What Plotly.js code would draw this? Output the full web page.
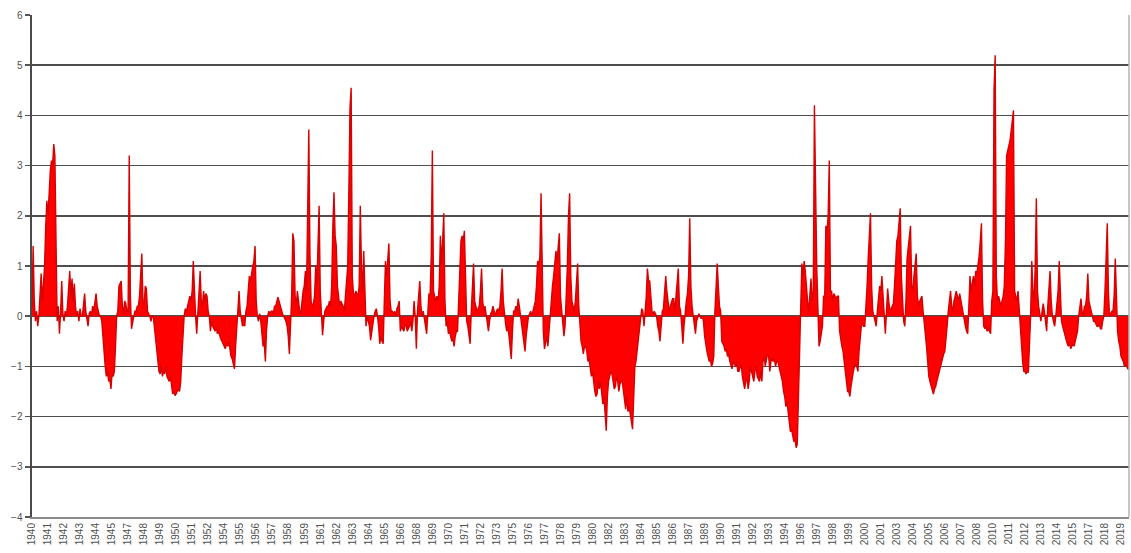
<!DOCTYPE html>
<html>
<head>
<meta charset="utf-8">
<script src="https://cdn.plot.ly/plotly-3.0.1.min.js"></script>
<style>
  html, body { margin: 0; padding: 0; background: #ffffff; }
  #chart { width: 1131px; height: 553px; }
</style>
</head>
<body>
<div id="chart"></div>
<script>
// Monthly index values, January 1940 to December 2019, one row per year.
const startYear = 1940;

const v1940s = [
  0.2, 1.4, 0.3, -0.1, 0.1, -0.2, 0.0, 0.4, 0.85, 0.3, 0.6, 1.0,
  1.8, 2.3, 2.0, 2.6, 2.9, 3.1, 3.0, 3.43, 3.2, 1.5, -0.1, 0.2,
  -0.35, 0.1, 0.7, 0.05, -0.1, 0.1, 0.0, 0.2, 0.6, 0.9, 0.4, 0.75,
  0.3, 0.65, 0.2, 0.0, 0.1, -0.1, 0.15, 0.0, 0.0, 0.2, 0.45, 0.1,
  -0.1, -0.2, 0.05, 0.1, 0.0, 0.2, 0.1, 0.3, 0.45, 0.2, 0.05, 0.0,
  0.0, -0.1, -0.4, -0.8, -1.0, -1.2, -1.1, -1.3, -1.25, -1.45, -1.15, -1.2,
  -1.1, -0.6, 0.0, 0.1, 0.6, 0.65, 0.7, 0.2, 0.05, 0.3, 0.25, 0.1,
  0.1, 3.2, 0.4, -0.25, -0.1, 0.0, 0.1, 0.1, 0.2, 0.2, 0.4, 0.8,
  1.25, 0.3, 0.2, 0.6, 0.55, 0.1, 0.05, 0.0, -0.1, 0.0, 0.0, -0.2,
  -0.5, -0.7, -0.9, -1.1, -1.15, -1.0, -1.2, -1.1, -1.15, -1.0, -1.2, -1.25
];

const v1950s = [
  -1.3, -1.2, -1.45, -1.55, -1.5, -1.58, -1.55, -1.5, -1.45, -1.5, -1.3, -0.8,
  -0.3, 0.0, 0.15, 0.1, 0.2, 0.3, 0.4, 0.3, 0.5, 1.1, 0.3, 0.0,
  -0.35, 0.1, 0.6, 0.9, 0.3, 0.2, 0.5, 0.3, 0.45, 0.4, 0.1, 0.0,
  -0.3, -0.1, -0.2, -0.25, -0.3, -0.2, -0.35, -0.3, -0.4, -0.45, -0.5, -0.55,
  -0.6, -0.65, -0.55, -0.6, -0.5, -0.7, -0.8, -0.85, -1.0, -1.05, -0.6, -0.2,
  0.0, 0.5, 0.1, -0.1, -0.2, -0.15, -0.2, 0.1, 0.2, 0.5, 0.8, 0.7,
  0.9, 1.0, 1.1, 1.4, 0.3, 0.0, -0.1, 0.05, -0.1, -0.3, -0.6, -0.5,
  -0.9, -0.3, 0.0, 0.1, 0.05, 0.1, 0.1, 0.05, 0.2, 0.2, 0.3, 0.38,
  0.3, 0.2, 0.1, 0.05, 0.0, -0.05, -0.1, -0.2, -0.4, -0.75, 0.0, 0.4,
  1.65, 1.5, 0.4, 0.2, 0.5, 0.3, 0.1, 0.05, 0.3, 0.5, 0.6, 0.9
];

const v1960s = [
  0.5, 1.8, 3.72, 1.2, 0.3, 0.2, 0.25, 0.4, 1.0, 0.6, 1.3, 2.2,
  0.5, 0.1, -0.38, -0.1, 0.1, 0.15, 0.2, 0.2, 0.3, 0.2, 0.6, 1.8,
  2.47, 1.6, 1.4, 0.6, 0.4, 0.2, 0.3, 0.25, 0.2, 0.1, 0.4, 0.6,
  1.0, 2.5, 4.15, 4.55, 0.8, 0.45, 0.4, 0.5, 0.45, 0.4, 0.6, 2.2,
  1.0, 0.5, 1.3, 0.3, -0.2, 0.0, -0.1, -0.2, -0.48, -0.3, -0.1, 0.0,
  0.1, 0.15, 0.0, -0.2, -0.55, -0.4, -0.5, -0.55, 0.3, 1.1, 0.8, 1.2,
  1.45, 0.3, 0.1, 0.1, 0.05, 0.1, 0.0, 0.15, 0.2, 0.3, -0.3, -0.2,
  -0.25, -0.3, -0.2, -0.15, -0.3, -0.25, -0.2, -0.1, -0.3, -0.1, 0.3, 0.0,
  -0.65, 0.1, 0.4, 0.7, 0.2, 0.0, 0.1, -0.1, -0.2, -0.35, 0.2, 0.45,
  0.4, 1.2, 3.3, 0.5, 0.4, 0.3, 0.4, 0.3, 0.6, 1.6, 1.0, 1.5
];

const v1970s = [
  2.05, 0.3, -0.2, -0.1, -0.35, -0.3, -0.4, -0.5, -0.45, -0.6, -0.4, -0.3,
  -0.3, 0.4, 1.2, 1.5, 1.6, 1.5, 1.7, 0.5, -0.1, -0.2, -0.4, -0.55,
  0.1, 0.5, 1.05, 0.3, 0.2, 0.1, 0.15, 0.2, 0.5, 0.95, 0.3, 0.1,
  0.2, 0.0, -0.2, -0.3, -0.1, 0.05, 0.1, 0.2, 0.1, 0.0, 0.1, 0.15,
  0.1, 0.2, 0.5, 0.95, 0.3, 0.0, -0.15, -0.3, -0.2, -0.4, -0.6, -0.85,
  -0.3, 0.1, 0.1, 0.2, 0.1, 0.35, 0.2, 0.0, -0.2, -0.3, -0.5, -0.7,
  -0.4, -0.2, 0.0, 0.05, 0.1, 0.0, 0.1, 0.2, 0.3, 0.6, 1.1, 1.0,
  1.2, 2.45, 0.5, -0.3, -0.65, -0.5, -0.4, -0.6, -0.3, 0.1, 0.3, 0.6,
  0.8, 1.0, 1.3, 1.1, 1.4, 1.65, 0.4, 0.1, -0.2, -0.4, -0.2, 0.3,
  1.0, 2.0, 2.45, 0.8, 0.3, 0.2, 0.1, 0.3, 0.6, 1.05, 0.2, -0.15
];

const v1980s = [
  -0.5, -0.6, -0.75, -0.6, -0.6, -0.7, -0.9, -0.85, -1.0, -1.2, -1.1, -1.35,
  -1.5, -1.6, -1.55, -1.3, -1.45, -1.3, -1.6, -1.75, -1.6, -2.0, -2.28, -1.6,
  -1.3, -1.2, -1.1, -1.15, -1.3, -1.45, -1.4, -1.2, -1.3, -1.5, -1.35, -1.3,
  -1.3, -1.5, -1.7, -1.85, -1.6, -1.9, -1.8, -2.0, -2.1, -2.25, -1.6, -1.0,
  -0.9, -0.7, -0.5, -0.2, 0.0, 0.15, 0.1, -0.2, 0.1, 0.4, 0.95, 0.7,
  0.7, 0.3, 0.1, 0.05, 0.1, 0.05, 0.0, -0.2, -0.3, -0.5, -0.1, 0.1,
  0.15, 0.4, 0.8, 0.5, 0.3, 0.1, 0.2, 0.3, 0.35, 0.35, 0.1, 0.4,
  0.7, 0.95, 0.2, 0.1, -0.2, -0.55, -0.2, 0.1, 0.3, 0.45, 0.8, 1.95,
  0.6, 0.2, 0.0, -0.1, -0.35, -0.1, 0.0, 0.05, 0.0, -0.05, 0.0, -0.1,
  -0.4, -0.6, -0.7, -0.8, -0.9, -0.85, -1.0, -0.95, -0.8, 0.1, 0.5, 1.05
];

const v1990s = [
  0.6, 0.2, 0.1, -0.5, -0.55, -0.6, -0.7, -0.65, -0.8, -0.75, -0.9, -1.0,
  -1.05, -0.9, -0.95, -1.0, -0.9, -1.1, -1.1, -1.0, -0.95, -1.2, -1.3, -1.45,
  -1.3, -1.2, -1.45, -1.3, -1.0, -1.1, -1.2, -1.3, -1.1, -1.0, -1.2, -1.25,
  -1.3, -1.1, -1.3, -0.9, -0.8, -1.0, -0.9, -0.75, -0.8, -1.1, -0.9, -0.85,
  -0.9, -0.85, -1.0, -0.9, -0.9, -1.0, -1.1, -1.15, -1.3, -1.5, -1.6, -1.8,
  -1.7, -1.9, -2.1, -2.3, -2.25, -2.4, -2.5, -2.45, -2.62, -2.55, -1.5, -0.4,
  0.3, 1.05, 0.8, 1.1, 0.9, 0.5, 0.3, 0.1, 0.4, 0.75, 0.3, 0.5,
  4.2, 2.0, 1.0, 0.2, -0.6, -0.5, -0.3, -0.2, 0.4, 0.4, 1.8, 1.7,
  2.0, 3.1, 0.5, 0.5, 0.3, 0.45, 0.4, 0.35, 0.4, 0.4, -0.3, -0.5,
  -0.6, -0.7, -0.9, -1.1, -1.3, -1.5, -1.5, -1.6, -1.4, -1.2, -1.1, -1.0
];

const v2000s = [
  -0.95, -1.0, -1.1, -0.7, -0.4, -0.2, -0.15, -0.2, -0.2, 0.1, 0.6, 1.15,
  1.5, 2.05, 0.6, 0.1, 0.0, -0.1, -0.2, 0.1, 0.3, 0.6, 0.5, 0.8,
  0.4, 0.1, -0.35, 0.1, 0.55, 0.3, 0.1, 0.15, 0.2, 0.25, 0.6, 1.0,
  1.5, 1.6, 1.9, 2.15, 0.8, 0.2, -0.1, -0.2, 0.3, 1.15, 1.4, 1.6,
  1.8, 0.6, 0.5, 0.8, 1.0, 1.25, 0.4, 0.2, 0.3, 0.35, 0.4, 0.1,
  -0.1, -0.3, -0.6, -0.9, -1.2, -1.3, -1.4, -1.5, -1.55, -1.45, -1.4, -1.3,
  -1.2, -1.1, -1.0, -0.9, -0.8, -0.75, -0.7, -0.5, -0.2, 0.1, 0.3, 0.5,
  0.2, 0.1, 0.3, 0.4, 0.5, 0.4, 0.3, 0.45, 0.3, 0.2, 0.0, -0.1,
  -0.2, -0.3, -0.35, 0.2, 0.8, 0.5, 0.7, 0.8, 0.6, 0.9, 0.85, 1.0,
  1.2, 1.5, 1.85, 0.3, -0.2, -0.25, -0.2, -0.3, -0.25, -0.3, -0.35, 0.3
];

const v2010s = [
  0.5, 4.5, 5.2, 0.8, 0.3, 0.4, 0.3, 0.2, 0.3, 0.4, 0.6, 1.5,
  3.2, 3.3, 3.4, 3.5, 3.7, 3.9, 4.1, 0.5, 0.4, 0.3, 0.5, 0.1,
  -0.2, -0.6, -0.9, -1.1, -1.1, -1.15, -1.1, -1.12, -0.5, 0.0, 1.1, 0.5,
  0.3, 1.0, 2.35, 0.5, 0.2, 0.0, -0.1, 0.1, 0.25, 0.1, -0.1, -0.3,
  0.2, 0.6, 0.9, 0.3, 0.0, -0.1, -0.2, 0.0, 0.2, 0.5, 1.1, 0.3,
  -0.1, -0.2, -0.3, -0.4, -0.5, -0.55, -0.6, -0.5, -0.65, -0.6, -0.55, -0.6,
  -0.5, -0.4, -0.3, 0.0, 0.2, 0.35, 0.1, 0.0, 0.2, 0.2, 0.4, 0.85,
  0.3, 0.15, 0.1, 0.0, -0.1, -0.1, -0.15, -0.2, -0.2, -0.15, -0.25, -0.25,
  -0.1, 0.0, 0.5, 1.2, 1.85, 0.5, 0.0, 0.05, 0.1, 0.1, 0.4, 1.15,
  0.3, -0.3, -0.5, -0.6, -0.8, -0.85, -0.9, -1.0, -0.95, -1.0, -1.05, -1.05
];

const values = [].concat(v1940s, v1950s, v1960s, v1970s, v1980s, v1990s, v2000s, v2010s);
const monthIndex = values.map((_, i) => i);
const monthYear = monthIndex.map(i => startYear + Math.floor(i / 12));

// Category axis: a year label on every 14th month.
const labelStep = 14;
const tickPositions = monthIndex.filter(i => i % labelStep === 0);
const tickLabels = tickPositions.map(i => String(monthYear[i]));

const axisFont = { family: 'Liberation Sans, Arial, sans-serif', color: '#505050' };

const trace = {
  type: 'scatter',
  mode: 'lines',
  x: monthIndex,
  y: values,
  fill: 'tozeroy',
  fillcolor: '#ff0000',
  line: { color: '#d80000', width: 1.4 },
  hoverinfo: 'y'
};

const layout = {
  width: 1131,
  height: 553,
  margin: { l: 32, r: 2, t: 15, b: 36 },
  paper_bgcolor: '#ffffff',
  plot_bgcolor: '#ffffff',
  showlegend: false,
  xaxis: {
    range: [0, values.length - 1],
    tickmode: 'array',
    tickvals: tickPositions,
    ticktext: tickLabels,
    tickangle: -90,
    tickfont: Object.assign({ size: 10 }, axisFont),
    showgrid: false,
    zeroline: false,
    showline: true,
    linecolor: '#8a8a8a',
    linewidth: 2,
    ticks: '',
    fixedrange: true
  },
  yaxis: {
    range: [-4, 6],
    dtick: 1,
    tick0: 0,
    tickfont: Object.assign({ size: 10 }, axisFont),
    showgrid: true,
    gridcolor: '#4e4e4e',
    gridwidth: 1.6,
    zeroline: false,
    showline: true,
    linecolor: '#4a4a4a',
    linewidth: 2.5,
    ticks: 'outside',
    ticklen: 5,
    tickwidth: 1.5,
    tickcolor: '#555555',
    fixedrange: true
  },
  shapes: [
    {
      type: 'line', xref: 'paper', yref: 'paper',
      x0: 1, x1: 1, y0: 0, y1: 1,
      line: { color: '#b5b5b5', width: 1.5 }
    }
  ]
};

Plotly.newPlot('chart', [trace], layout, { staticPlot: true, displayModeBar: false });
</script>
</body>
</html>
